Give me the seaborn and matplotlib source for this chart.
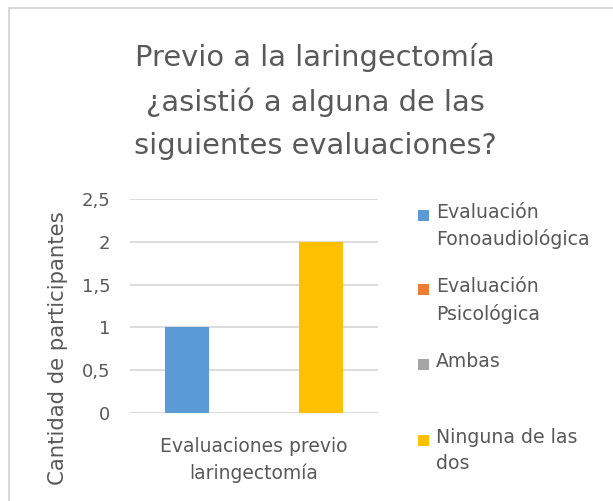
import pandas as pd
import matplotlib.pyplot as plt
import seaborn as sns
from matplotlib.patches import Rectangle

# datos
categorias = ["Evaluaciones previo\nlaringectomía"]
series = ["Evaluación\nFonoaudiológica", "Evaluación\nPsicológica", "Ambas", "Ninguna de las\ndos"]
valores = [1, 0, 0, 2]
colores = ["#5B9BD5", "#ED7D31", "#A5A5A5", "#FFC000"]
yticks = [0, 0.5, 1, 1.5, 2, 2.5]
ytick_labels = ["0", "0,5", "1", "1,5", "2", "2,5"]

df = pd.DataFrame({
    "categoria": categorias * len(series),
    "serie": series,
    "cantidad": valores,
})

sns.set_theme(style="white")
plt.rcParams["font.family"] = ["DejaVu Sans"]
gris = "#595959"

W, H = 613, 501
fig = plt.figure(figsize=(W / 100, H / 100), dpi=100)
ax = fig.add_axes([130 / W, 1 - 413 / H, 248 / W, 214 / H])

sns.barplot(data=df, x="categoria", y="cantidad", hue="serie", hue_order=series,
            palette=colores, width=0.718, gap=0, saturation=1, linewidth=0,
            legend=False, ax=ax, zorder=3)

ax.set_xlim(-0.5, 0.5)
ax.set_ylim(0, 2.5)
ax.set_yticks(yticks)
ax.set_yticklabels(ytick_labels)
ax.yaxis.grid(True, color="#d9d9d9", linewidth=1.3)
ax.set_axisbelow(True)
for s in ax.spines.values():
    s.set_visible(False)
ax.tick_params(axis="both", length=0, colors=gris, labelsize=13)
ax.tick_params(axis="x", labelsize=13.5, pad=17)
ax.tick_params(axis="y", pad=14)
for t in ax.get_xticklabels():
    t.set_linespacing(1.52)
ax.set_xlabel("")
ax.set_ylabel("")

# titulo
fig.text(315 / W, 1 - 42.5 / H, "Previo a la laringectomía\n¿asistió a alguna de las\nsiguientes evaluaciones?",
         ha="center", va="top", fontsize=20.8, color=gris, linespacing=1.69)

# etiqueta eje y
fig.text(58.5 / W, 1 - 348 / H, "Cantidad de participantes", rotation=90,
         ha="center", va="center", fontsize=15.3, color=gris)

# leyenda
textos_y = [211, 285.5, 360, 436]
for etiqueta, color, ty in zip(series, colores, textos_y):
    fig.patches.append(Rectangle((418 / W, 1 - (ty + 9.5) / H), 11 / W, 11 / H,
                                 transform=fig.transFigure, facecolor=color, edgecolor="none"))
    fig.text(436 / W, 1 - (ty - 8) / H, etiqueta, ha="left", va="top",
             fontsize=13.6, color=gris, linespacing=1.45)

# borde del area del grafico
fig.patches.append(Rectangle((9 / W, -0.1), 1.0, 1 - 8 / H + 0.1, transform=fig.transFigure,
                             facecolor="none", edgecolor="#d9d9d9", linewidth=1.5))

fig.savefig("out.png", dpi=100)
